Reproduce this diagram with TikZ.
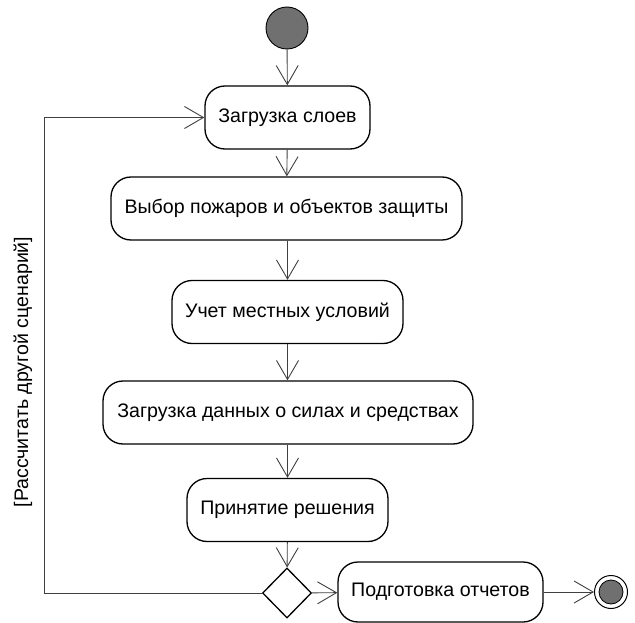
\documentclass[tikz,border=0pt]{standalone}
\usepackage{fontspec}
\setmainfont{Liberation Sans}
\usepackage{tikz}
\usetikzlibrary{arrows.meta,shapes,positioning}
\usepackage{xcolor}
\definecolor{uedge}{RGB}{64,64,64}
\definecolor{ugray}{RGB}{112,112,112}
\tikzstyle{activity} = [rectangle, rounded corners=20pt, minimum height=63pt, inner sep=0pt, text centered, draw=black, fill=white, line width=1.3pt, font=\fontsize{19.6}{22}\selectfont]
\tikzstyle{decision} = [diamond, minimum width=49pt, minimum height=50pt, inner sep=0pt, draw=black, fill=white, line width=1.3pt]
\tikzstyle{arrow} = [line width=0.9pt, color=uedge, -{Straight Barb[length=19pt,width=22pt]}]

\begin{document}
\begin{tikzpicture}[x=1pt,y=-1pt]
\useasboundingbox (0,0) rectangle (635,623);
% Start
\node[circle, minimum size=42pt, inner sep=0pt, draw=black, fill=ugray, line width=0.9pt] (start) at (287,28) {};

% Activities
\node[activity, minimum width=165pt] (load) at (287.5,117.5) {Загрузка слоев};
\node[activity, minimum width=351pt] (choose) at (286.5,208.5) {Выбор пожаров и объектов защиты};
\node[activity, minimum width=231pt] (local) at (287.5,312) {Учет местных условий};
\node[activity, minimum width=370pt] (forces) at (288,412.5) {Загрузка данных о силах и средствах};
\node[activity, minimum width=201pt] (decide) at (287.5,510) {Принятие решения};

% Branch
\node[decision] (merge) at (287,593) {};
\node[activity, minimum width=205pt, minimum height=60pt] (report) at (440.5,592) {Подготовка отчетов};

% End
\node[circle, minimum size=33pt, inner sep=0pt, draw=black, line width=1pt] (finish) at (611,592) {};
\node[circle, minimum size=24pt, inner sep=0pt, draw=black, fill=ugray, line width=0.8pt] (finishdot) at (finish) {};

% Arrows
\draw[arrow] (start) -- (load);
\draw[arrow] (load) -- (choose);
\draw[arrow] (choose.south -| local.north) -- (local);
\draw[arrow] (local) -- (forces.north -| local.south);
\draw[arrow] (forces.south -| decide.north) -- (decide);
\draw[arrow] (decide) -- (merge);
\draw[arrow] (merge) -- (report);
\draw[arrow] (report) -- (finish);

% Loop back
\coordinate (back) at (44,593);
\draw[arrow] (merge.west) -- (back) |- (load.west);
\node[rotate=90, font=\fontsize{19.6}{22}\selectfont] (retry) at (23,372) {[Рассчитать другой сценарий]};
\end{tikzpicture}
\end{document}
